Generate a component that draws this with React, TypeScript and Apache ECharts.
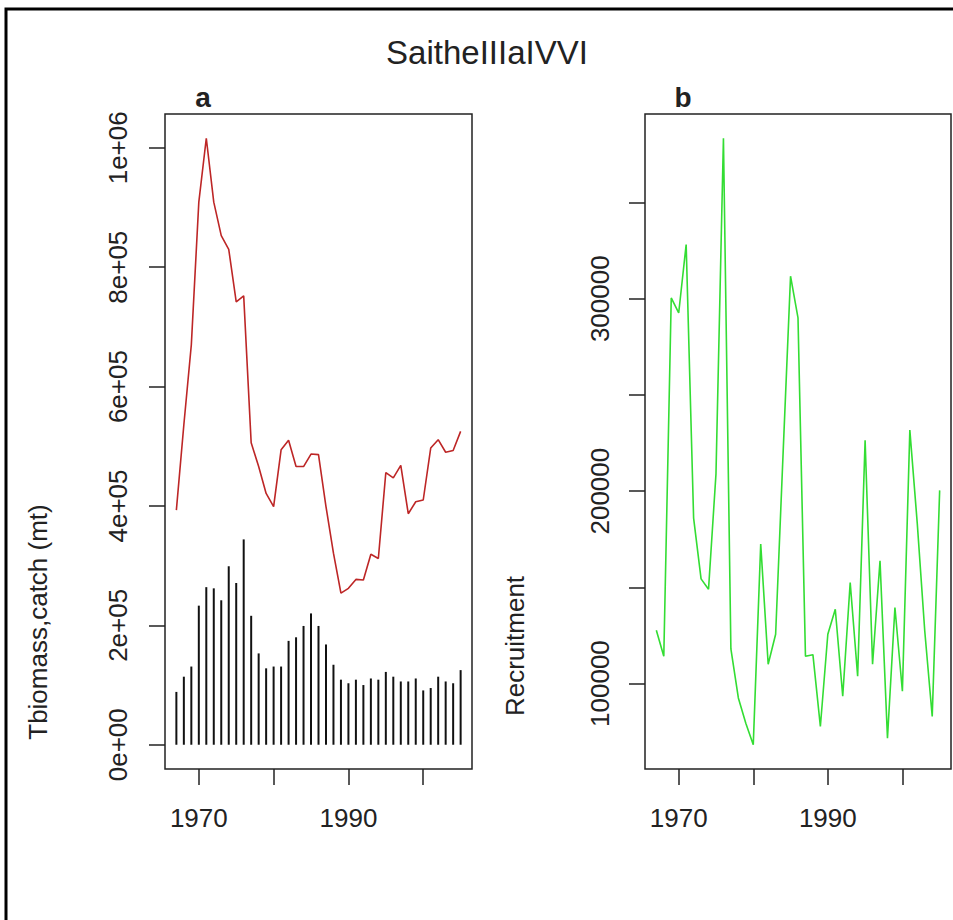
import React, { useEffect, useRef } from "react";
import * as echarts from "echarts";

const years = [1967, 1968, 1969, 1970, 1971, 1972, 1973, 1974, 1975, 1976, 1977, 1978, 1979, 1980, 1981, 1982, 1983, 1984, 1985, 1986, 1987, 1988, 1989, 1990, 1991, 1992, 1993, 1994, 1995, 1996, 1997, 1998, 1999, 2000, 2001, 2002, 2003, 2004, 2005];

const biomass = [393000, 536000, 670000, 909000, 1016000, 909000, 853000, 830000, 742000, 752000, 506000, 466000, 421000, 399000, 494000, 510000, 466000, 466000, 487000, 486000, 399000, 321000, 254000, 262000, 277000, 276000, 319000, 312000, 456000, 447000, 468000, 387000, 407000, 410000, 497000, 511000, 490000, 493000, 525000];

const catchT = [88500, 114000, 131000, 233000, 264000, 262000, 242000, 299000, 271000, 344000, 216000, 153000, 128000, 131000, 131000, 174000, 180000, 199000, 220000, 199000, 168000, 134000, 109000, 103000, 109000, 100000, 111000, 109000, 122000, 114000, 106000, 106000, 111000, 91000, 95000, 114000, 106000, 103000, 125000];

const recruitment = [127700, 114200, 300400, 292600, 328200, 186000, 154400, 149000, 209000, 383400, 118000, 92500, 79400, 68200, 172500, 110000, 125600, 219600, 311700, 290000, 114200, 115000, 77700, 125600, 138600, 93400, 152500, 103800, 226500, 110000, 163800, 71600, 139500, 96000, 231700, 183000, 127300, 82900, 200400];

const xTicks = [1970, 1980, 1990, 2000];
const xLabels = [1970, 1990];
const yTicksA = [0, 200000, 400000, 600000, 800000, 1000000];
const yTicksB = [100000, 150000, 200000, 250000, 300000, 350000];
const yLabelsB = [100000, 200000, 300000];

const mainTitle = "SaitheIIIaIVVI";
const panelA = "a";
const panelB = "b";
const yNameA = "Tbiomass,catch (mt)";
const yNameB = "Recruitment";

const FONT = "'Liberation Sans', Arial, sans-serif";
const TXT = "#222";

function rRange(vals: number[], includeZero = false) {
  let lo = Math.min(...vals);
  let hi = Math.max(...vals);
  if (includeZero) lo = Math.min(0, lo);
  const ext = (hi - lo) * 0.04;
  return [lo - ext, hi + ext];
}

function sci(v: number) {
  if (v === 0) return "0e+00";
  const e = Math.floor(Math.log10(Math.abs(v)) + 1e-9);
  const m = Math.round(v / Math.pow(10, e));
  return `${m}e+${String(e).padStart(2, "0")}`;
}

export default function App() {
  const ref = useRef<HTMLDivElement>(null);
  useEffect(() => {
    if (!ref.current) return;
    const chart = echarts.init(ref.current, undefined, { renderer: "svg" });
    const xr = rRange(years);
    const yra = rRange([...biomass, ...catchT], true);
    const yrb = rRange(recruitment);

    const xAxisBase = (gi: number) => ({
      type: "value",
      gridIndex: gi,
      min: xr[0],
      max: xr[1],
      axisLine: { show: false, onZero: false },
      splitLine: { show: false },
      axisTick: {
        show: true,
        inside: false,
        length: 16,
        customValues: xTicks,
        lineStyle: { color: TXT, width: 1.5 },
      },
      axisLabel: {
        show: true,
        customValues: xLabels,
        margin: 36,
        fontSize: 26,
        fontFamily: FONT,
        color: TXT,
        formatter: (v: number) => String(v),
      },
    });

    const option: any = {
      animation: false,
      backgroundColor: "#ffffff",
      grid: [
        { left: 165, top: 114, width: 307, height: 655, show: true, borderColor: TXT, borderWidth: 1.5, backgroundColor: "transparent" },
        { left: 645, top: 114, width: 306, height: 655, show: true, borderColor: TXT, borderWidth: 1.5, backgroundColor: "transparent" },
      ],
      xAxis: [xAxisBase(0), xAxisBase(1)],
      yAxis: [
        {
          type: "value",
          gridIndex: 0,
          min: yra[0],
          max: yra[1],
          axisLine: { show: false, onZero: false },
          splitLine: { show: false },
          axisTick: { show: true, length: 16, customValues: yTicksA, lineStyle: { color: TXT, width: 1.5 } },
          axisLabel: {
            customValues: yTicksA,
            rotate: 90,
            margin: 34,
            fontSize: 26,
            fontFamily: FONT,
            color: TXT,
            formatter: (v: number) => sci(v),
          },
        },
        {
          type: "value",
          gridIndex: 1,
          min: yrb[0],
          max: yrb[1],
          axisLine: { show: false, onZero: false },
          splitLine: { show: false },
          axisTick: { show: true, length: 16, customValues: yTicksB, lineStyle: { color: TXT, width: 1.5 } },
          axisLabel: {
            customValues: yLabelsB,
            rotate: 90,
            margin: 32,
            fontSize: 26,
            fontFamily: FONT,
            color: TXT,
            formatter: (v: number) => String(v),
          },
        },
      ],
      series: [
        {
          type: "bar",
          xAxisIndex: 0,
          yAxisIndex: 0,
          barWidth: 2,
          itemStyle: { color: "#111" },
          data: years.map((y, i) => [y, catchT[i]]),
        },
        {
          type: "line",
          xAxisIndex: 0,
          yAxisIndex: 0,
          symbol: "none",
          lineStyle: { color: "#bd2626", width: 1.6 },
          data: years.map((y, i) => [y, biomass[i]]),
        },
        {
          type: "line",
          xAxisIndex: 1,
          yAxisIndex: 1,
          symbol: "none",
          lineStyle: { color: "#33dd33", width: 1.6 },
          data: years.map((y, i) => [y, recruitment[i]]),
        },
      ],
      graphic: [
        {
          type: "polyline",
          shape: { points: [[6, 920], [6, 9], [953, 9]] },
          style: { stroke: "#000", lineWidth: 3, fill: "none" },
        },
        {
          type: "text",
          x: 487,
          y: 52,
          style: { text: mainTitle, font: `33px ${FONT}`, fill: TXT, textAlign: "center", textVerticalAlign: "middle" },
        },
        {
          type: "text",
          x: 203,
          y: 97,
          style: { text: panelA, font: `bold 28px ${FONT}`, fill: TXT, textAlign: "center", textVerticalAlign: "middle" },
        },
        {
          type: "text",
          x: 683,
          y: 97,
          style: { text: panelB, font: `bold 28px ${FONT}`, fill: TXT, textAlign: "center", textVerticalAlign: "middle" },
        },
        {
          type: "text",
          x: 38,
          y: 622,
          rotation: Math.PI / 2,
          style: { text: yNameA, font: `26px ${FONT}`, fill: TXT, textAlign: "center", textVerticalAlign: "middle" },
        },
        {
          type: "text",
          x: 515,
          y: 646,
          rotation: Math.PI / 2,
          style: { text: yNameB, font: `26px ${FONT}`, fill: TXT, textAlign: "center", textVerticalAlign: "middle" },
        },
      ],
    };
    chart.setOption(option);
    return () => chart.dispose();
  }, []);
  return (
    <div
      ref={ref}
      style={{ position: "absolute", left: 0, top: 0, width: 953, height: 920, background: "#fff" }}
    />
  );
}
